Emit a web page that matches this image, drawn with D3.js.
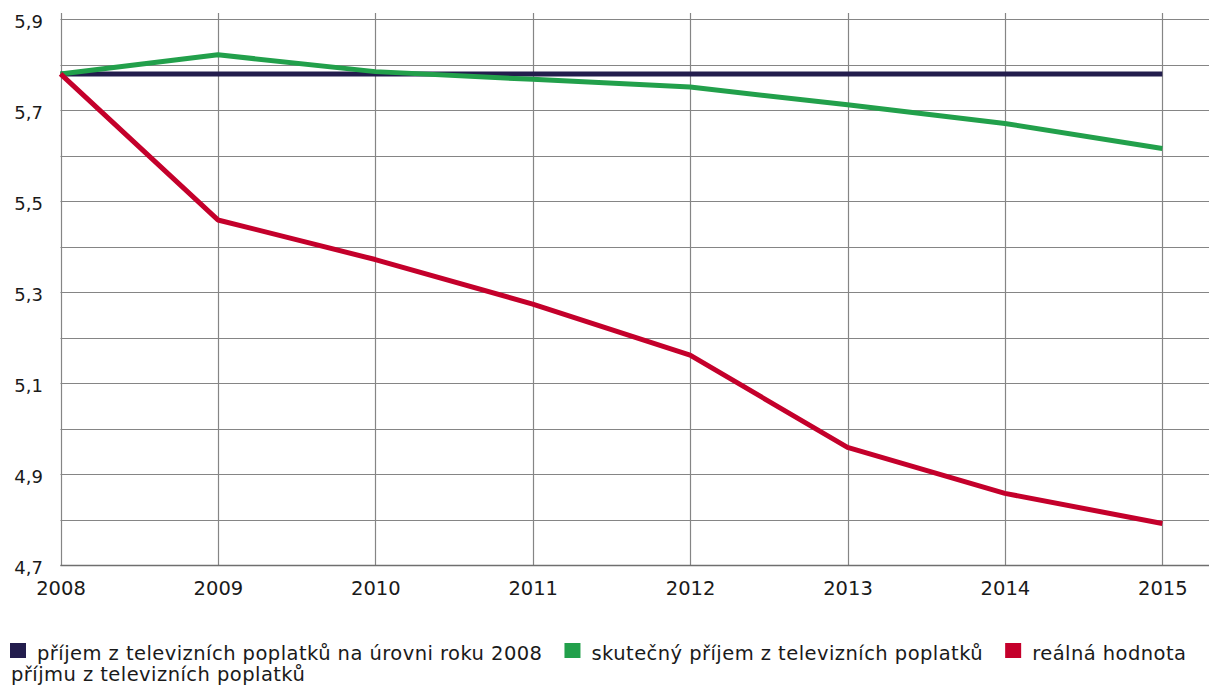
<!DOCTYPE html>
<html><head><meta charset="utf-8">
<script src="https://cdn.jsdelivr.net/npm/d3@7"></script>
<style>
html,body{margin:0;padding:0;background:#fff;}
svg{display:block;font-family:"DejaVu Sans",sans-serif;}
</style></head>
<body>
<svg id="c" width="1209" height="685"></svg>
<script>
const years = [2008, 2009, 2010, 2011, 2012, 2013, 2014, 2015];
const yTicks = [4.7, 4.8, 4.9, 5.0, 5.1, 5.2, 5.3, 5.4, 5.5, 5.6, 5.7, 5.8, 5.9];
const yLabelTicks = [4.7, 4.9, 5.1, 5.3, 5.5, 5.7, 5.9];
const baseline2008 = [5.78, 5.78, 5.78, 5.78, 5.78, 5.78, 5.78, 5.78];
const actual = [5.78, 5.822, 5.785, 5.768, 5.751, 5.712, 5.671, 5.616];
const realValue = [5.78, 5.459, 5.372, 5.274, 5.162, 4.959, 4.858, 4.792];
const legendLine1 = ["příjem z televizních poplatků na úrovni roku 2008", "skutečný příjem z televizních poplatků", "reálná hodnota"];
const legendLine2 = "příjmu z televizních poplatků";
const colors = ["#231d4d", "#22a04b", "#c4002b"];

const FONT = "'DejaVu Sans',sans-serif";
const svg = d3.select("#c");
const x = d3.scaleLinear().domain([2008, 2015]).range([60.5, 1162.3]);
const y = d3.scaleLinear().domain([4.7, 5.9]).range([565.3, 19.3]);
const gridRight = 1209;
const gridTop = 13;

const g = svg.append("g");
g.selectAll("line.h").data(yTicks).join("line")
  .attr("x1", x(2008)).attr("x2", gridRight)
  .attr("y1", d => Math.round(y(d)) + 0.5).attr("y2", d => Math.round(y(d)) + 0.5)
  .attr("stroke", "#858585").attr("stroke-width", 1.2);
g.selectAll("line.v").data(years).join("line")
  .attr("x1", d => Math.round(x(d)) + 0.5).attr("x2", d => Math.round(x(d)) + 0.5)
  .attr("y1", gridTop).attr("y2", y(4.7))
  .attr("stroke", "#858585").attr("stroke-width", 1.2);
g.append("line").attr("x1", x(2008)).attr("x2", gridRight)
  .attr("y1", Math.round(y(4.7)) + 0.5).attr("y2", Math.round(y(4.7)) + 0.5)
  .attr("stroke", "#6f6f6f").attr("stroke-width", 1.3);

const yAxis = d3.axisLeft(y).tickValues(yLabelTicks).tickSize(0).tickPadding(0)
  .tickFormat(d => d3.format(".1f")(d).replace(".", ","));
svg.append("g").attr("transform", "translate(43,2)").call(yAxis)
  .call(s => s.select(".domain").remove())
  .selectAll("text").attr("font-size", 18).attr("fill", "#1a1a1a").attr("font-family", FONT);

const xAxis = d3.axisBottom(x).tickValues(years).tickSize(0).tickPadding(0).tickFormat(d3.format("d"));
svg.append("g").attr("transform", "translate(0,581)").call(xAxis)
  .call(s => s.select(".domain").remove())
  .selectAll("text").attr("font-size", 19.5).attr("fill", "#1a1a1a").attr("font-family", FONT);

const line = d3.line().x((d, i) => x(years[i])).y(d => y(d));
[baseline2008, actual, realValue].forEach((s, i) => {
  svg.append("path").datum(s).attr("d", line)
    .attr("fill", "none").attr("stroke", colors[i]).attr("stroke-width", 5)
    .attr("stroke-linejoin", "round");
});

// legend: flow layout
const leg = svg.append("g").attr("font-size", 19.5).attr("letter-spacing", 0.45)
  .attr("fill", "#1a1a1a").attr("font-family", FONT);
let cx = 10;
legendLine1.forEach((t, i) => {
  leg.append("rect").attr("x", cx).attr("y", 643).attr("width", 16).attr("height", 15).attr("fill", colors[i]);
  const tx = leg.append("text").attr("x", cx + 27).attr("y", 659.5).text(t);
  cx = cx + 27 + tx.node().getComputedTextLength() + 22;
});
leg.append("text").attr("x", 11).attr("y", 681).text(legendLine2);
</script>
</body></html>
